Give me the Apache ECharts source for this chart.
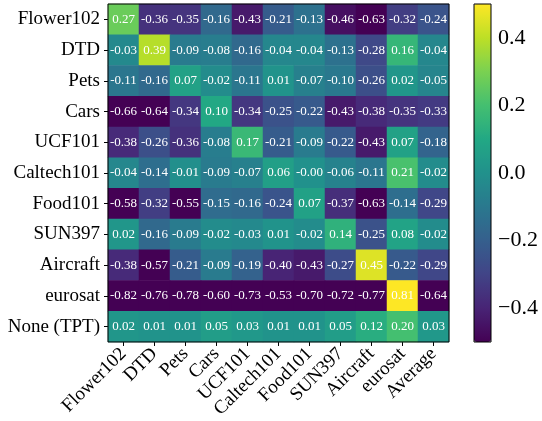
<!DOCTYPE html>
<html>
<head>
<meta charset="utf-8">
<script src="https://cdn.jsdelivr.net/npm/echarts@6/dist/echarts.min.js"></script>
<style>html,body{margin:0;padding:0;background:#fff}#c{width:542px;height:421px}</style>
</head>
<body>
<div id="c"></div>
<script>
const xCategories = ['Flower102','DTD','Pets','Cars','UCF101','Caltech101','Food101','SUN397','Aircraft','eurosat','Average'];
const yCategories = ['Flower102','DTD','Pets','Cars','UCF101','Caltech101','Food101','SUN397','Aircraft','eurosat','None (TPT)'];
const rowFlower102 = [0.27,-0.36,-0.35,-0.16,-0.43,-0.21,-0.13,-0.46,-0.63,-0.32,-0.24];
const rowDTD       = [-0.03,0.39,-0.09,-0.08,-0.16,-0.04,-0.04,-0.13,-0.28,0.16,-0.04];
const rowPets      = [-0.11,-0.16,0.07,-0.02,-0.11,0.01,-0.07,-0.10,-0.26,0.02,-0.05];
const rowCars      = [-0.66,-0.64,-0.34,0.10,-0.34,-0.25,-0.22,-0.43,-0.38,-0.35,-0.33];
const rowUCF101    = [-0.38,-0.26,-0.36,-0.08,0.17,-0.21,-0.09,-0.22,-0.43,0.07,-0.18];
const rowCaltech101= [-0.04,-0.14,-0.01,-0.09,-0.07,0.06,-0.00,-0.06,-0.11,0.21,-0.02];
const rowFood101   = [-0.58,-0.32,-0.55,-0.15,-0.16,-0.24,0.07,-0.37,-0.63,-0.14,-0.29];
const rowSUN397    = [0.02,-0.16,-0.09,-0.02,-0.03,0.01,-0.02,0.14,-0.25,0.08,-0.02];
const rowAircraft  = [-0.38,-0.57,-0.21,-0.09,-0.19,-0.40,-0.43,-0.27,0.45,-0.22,-0.29];
const rowEurosat   = [-0.82,-0.76,-0.78,-0.60,-0.73,-0.53,-0.70,-0.72,-0.77,0.81,-0.64];
const rowNoneTPT   = [0.02,0.01,0.01,0.05,0.03,0.01,0.01,0.05,0.12,0.20,0.03];
const rows = [rowFlower102,rowDTD,rowPets,rowCars,rowUCF101,rowCaltech101,rowFood101,rowSUN397,rowAircraft,rowEurosat,rowNoneTPT];
const colorMin = -0.5, colorMax = 0.5;
const colorbarTicks = [-0.4,-0.2,0.0,0.2,0.4];

const viridis = ['#440154','#482475','#414487','#355f8d','#2a788e','#21918c','#22a884','#44bf70','#7ad151','#bddf26','#fde725'];

const data = [];
rows.forEach((r, yi) => r.forEach((v, xi) => {
  data.push([xi, yi, Math.max(colorMin, Math.min(colorMax, v)), v]);
}));

function fmtCell(v) {
  const neg = v < 0 || Object.is(v, -0);
  return (neg ? '-' : '') + Math.abs(v).toFixed(2);
}

const FONT = '"Liberation Serif","Times New Roman",serif';
const chart = echarts.init(document.getElementById('c'), null, {renderer: 'canvas'});
chart.setOption({
  animation: false,
  backgroundColor: '#fff',
  grid: [
    {left: 108, top: 4, width: 341, height: 338, show: true, borderColor: '#000', borderWidth: 1, backgroundColor: 'transparent', z: 10},
    {left: 474, top: 4, width: 17, height: 338, show: true, borderColor: '#000', borderWidth: 1, backgroundColor: 'transparent', z: 10},
    {left: 474, top: 4 + 338 * 0.1, width: 17, height: 338 * 0.8, show: false}
  ],
  xAxis: [
    {type: 'category', data: xCategories, gridIndex: 0, position: 'bottom',
     axisLine: {show: false}, splitLine: {show: false},
     axisTick: {show: true, alignWithLabel: true, length: 4, lineStyle: {color: '#000'}},
     axisLabel: {rotate: 45, margin: 9, color: '#000', fontFamily: FONT, fontSize: 19, interval: 0}},
    {type: 'value', gridIndex: 1, show: false},
    {type: 'value', gridIndex: 2, show: false}
  ],
  yAxis: [
    {type: 'category', data: yCategories, gridIndex: 0, inverse: true,
     axisLine: {show: false}, splitLine: {show: false},
     axisTick: {show: true, alignWithLabel: true, length: 4, lineStyle: {color: '#000'}},
     axisLabel: {margin: 8, color: '#000', fontFamily: FONT, fontSize: 19, interval: 0}},
    {type: 'value', gridIndex: 1, show: false},
    {type: 'value', gridIndex: 2, position: 'right', min: -0.4, max: 0.4, interval: 0.2,
     axisLine: {show: false}, splitLine: {show: false},
     axisTick: {show: true, length: 4, lineStyle: {color: '#000'}},
     axisLabel: {margin: 7, color: '#000', fontFamily: FONT, fontSize: 22,
       formatter: v => (Math.abs(v) < 1e-9 ? '0.0' : (v < 0 ? '\u2212' : '') + Math.abs(v).toFixed(1))}}
  ],
  visualMap: {
    type: 'continuous', min: colorMin, max: colorMax, dimension: 2, seriesIndex: 0,
    calculable: false, orient: 'vertical', left: 474, top: 4, itemWidth: 17, itemHeight: 338,
    padding: 0, text: null, inRange: {color: viridis}
  },
  series: [{
    type: 'heatmap', xAxisIndex: 0, yAxisIndex: 0, data: data,
    label: {show: true, color: '#fff', fontFamily: FONT, fontSize: 13,
      formatter: p => fmtCell(p.data[3])},
    itemStyle: {borderWidth: 0},
    emphasis: {disabled: true}
  }]
});
</script>
</body>
</html>
